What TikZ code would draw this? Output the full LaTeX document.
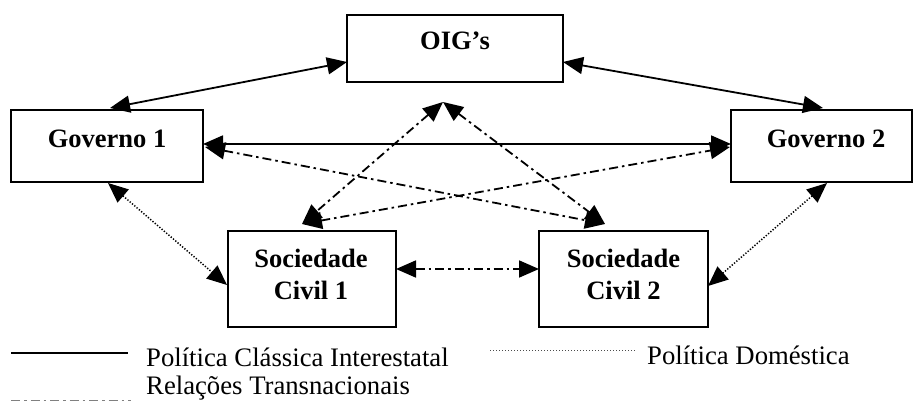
\documentclass[tikz,border=0pt]{standalone}
\usepackage{fontspec}
\setmainfont{Liberation Serif}
\usetikzlibrary{arrows.meta,calc}
\begin{document}
\begin{tikzpicture}[x=1pt,y=-1pt,
  box/.style={draw, line width=2.2pt, inner sep=0pt, outer sep=0pt, rectangle},
  lbl/.style={font=\fontsize{26.5}{32}\selectfont\bfseries, inner sep=0pt, anchor=base},
  leg/.style={font=\fontsize{26.7}{30}\selectfont, inner sep=0pt, anchor=base west},
  rel/.style={line width=1.8pt, {Triangle[length=20pt,width=17pt]}-{Triangle[length=20pt,width=17pt]}},
  dashdot/.style={dash pattern=on 9pt off 4pt on 2.5pt off 4pt},
  dots/.style={dash pattern=on 1.3pt off 1.7pt, line width=1.5pt}
]
\useasboundingbox (0,0) rectangle (913,401);

% boxes
\node[box, minimum width=216pt, minimum height=67pt] (oig) at (455,48.5) {};
\node[box, minimum width=192pt, minimum height=72pt] (g1) at (107,146) {};
\node[box, minimum width=181pt, minimum height=72pt] (g2) at (821.5,146) {};
\node[box, minimum width=168pt, minimum height=96pt] (sc1) at (312,279) {};
\node[box, minimum width=169pt, minimum height=96pt] (sc2) at (623.5,279) {};

% labels
\node[lbl] (oigt) at ($(oig.north)+(0,35)$) {OIG’s};
\node[lbl] (g1t) at ($(g1.north)+(0,37)$) {Governo 1};
\node[lbl] (g2t) at ($(g2.north)+(4.5,37)$) {Governo 2};
\node[lbl] (s1a) at ($(sc1.north)+(-1,36)$) {Sociedade};
\node[lbl] (s1b) at ($(sc1.north)+(-1,68)$) {Civil 1};
\node[lbl] (s2a) at ($(sc2.north)+(0,36)$) {Sociedade};
\node[lbl] (s2b) at ($(sc2.north)+(0,68)$) {Civil 2};

% connector end points
\coordinate (oigW) at ($(oig.north west)+(0,47)$);
\coordinate (oigE) at ($(oig.north east)+(0,47)$);
\coordinate (oigS) at ($(oig.south)+(-12,20)$);
\coordinate (g1N) at ($(g1.north)+(3,-2)$);
\coordinate (g1E) at ($(g1.east)+(0,-2)$);
\coordinate (g1Ed) at ($(g1.east)+(2,1)$);
\coordinate (g1S) at ($(g1.south)+(1,1)$);
\coordinate (g2N) at ($(g2.north)+(1.5,-2)$);
\coordinate (g2W) at ($(g2.west)+(0,-2)$);
\coordinate (g2Wd) at ($(g2.west)+(-1,1)$);
\coordinate (g2S) at ($(g2.south)+(5.5,1)$);
\coordinate (s1N) at ($(sc1.north)+(-10,-7)$);
\coordinate (s1W) at ($(sc1.west)+(-1,6)$);
\coordinate (s1E) at ($(sc1.east)+(0,-10)$);
\coordinate (s2N) at ($(sc2.north)+(-18.5,-7)$);
\coordinate (s2W) at ($(sc2.west)+(0,-10)$);
\coordinate (s2E) at ($(sc2.east)+(0,7)$);

% classical interstate politics
\draw[rel] (g1N) -- (oigW);
\draw[rel] (oigE) -- (g2N);
\draw[rel] (g1E) -- (g2W);

% transnational relations
\draw[rel, dashdot] (g1Ed) -- (s2N);
\draw[rel, dashdot] (s1N) -- (g2Wd);
\draw[rel, dashdot] (oigS) -- (s1N);
\draw[rel, dashdot] (oigS) -- (s2N);
\draw[rel, dashdot] (s1E) -- (s2W);

% domestic politics
\draw[rel, dots] (g1S) -- (s1W);
\draw[rel, dots] (g2S) -- (s2E);

% legend
\draw[line width=1.8pt] (11,353) -- (128,353);
\node[leg] (l1) at (146,366) {Política Clássica Interestatal};
\node[leg] (l2) at (146,394) {Relações Transnacionais};
\draw[line width=1.5pt, dashdot, gray] (11,400.5) -- (131,400.5);
\draw[dots, line width=0.9pt, gray!60!black] (490,350) -- (635,350);
\node[leg] (l3) at (647,364) {Política Doméstica};
\end{tikzpicture}
\end{document}
